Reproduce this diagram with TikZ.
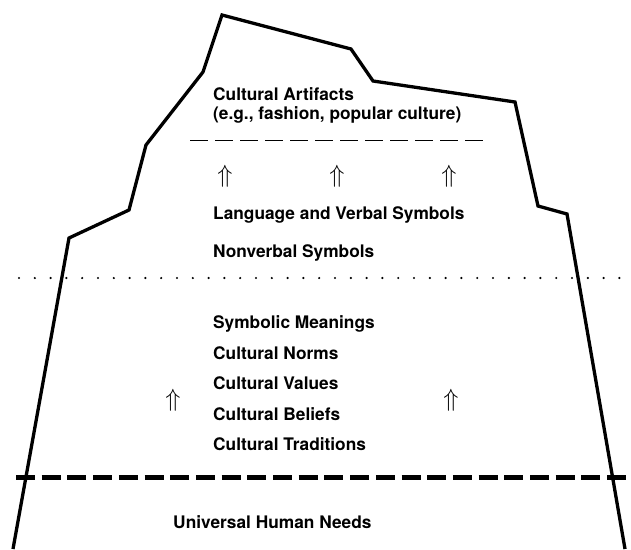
\documentclass[tikz,border=0pt]{standalone}
\usepackage{fontspec}
\newfontfamily\heros{TeX Gyre Heros}
\begin{document}
\begin{tikzpicture}[x=1pt,y=-1pt,
        berg/.style={line width=3.3pt,line join=miter},
        lbl/.style={anchor=base west,inner sep=0pt,
            font=\heros\bfseries\fontsize{17.3}{20}\selectfont},
        uparr/.style={inner sep=0pt,font=\fontsize{23}{26}\selectfont}]
\useasboundingbox[fill=white] (0,0) rectangle (631,549);
\draw[berg] (13,549) -- (69,238) -- (129,210) -- (146,145) -- (203,72)
    -- (222,15) -- (351,49) -- (373,81) -- (515,102) -- (538,206)
    -- (567,214) -- (625,549);
\draw[line width=1.8pt, dash pattern=on 18pt off 7pt] (190,140.5) -- (487,140.5);
\draw[line width=2.4pt, line cap=round, dash pattern=on 0pt off 15.8pt] (19,278) -- (631,278);
\draw[line width=4.5pt, dash pattern=on 19pt off 6.7pt] (16,477.5) -- (631,477.5);

\node[lbl] (artifacts) at (213,100) {Cultural Artifacts};
\node[lbl] (examples) at (213,119.5) {(e.g., fashion, popular culture)};
\node[uparr] (up1) at (225,176.5) {$\Uparrow$};
\node[uparr] (up2) at (337,176.5) {$\Uparrow$};
\node[uparr] (up3) at (449,176.5) {$\Uparrow$};
\node[lbl] (verbal) at (213,219) {Language and Verbal Symbols};
\node[lbl] (nonverbal) at (213,257) {Nonverbal Symbols};

\node[lbl] (meanings) at (213,328) {Symbolic Meanings};
\node[lbl] (norms) at (213,359) {Cultural Norms};
\node[lbl] (values) at (213,389) {Cultural Values};
\node[lbl] (beliefs) at (213,420) {Cultural Beliefs};
\node[lbl] (traditions) at (213,450) {Cultural Traditions};
\node[uparr] (up4) at (173,400) {$\Uparrow$};
\node[uparr] (up5) at (451,400) {$\Uparrow$};

\node[lbl] (needs) at (173,528) {Universal Human Needs};
\end{tikzpicture}
\end{document}
